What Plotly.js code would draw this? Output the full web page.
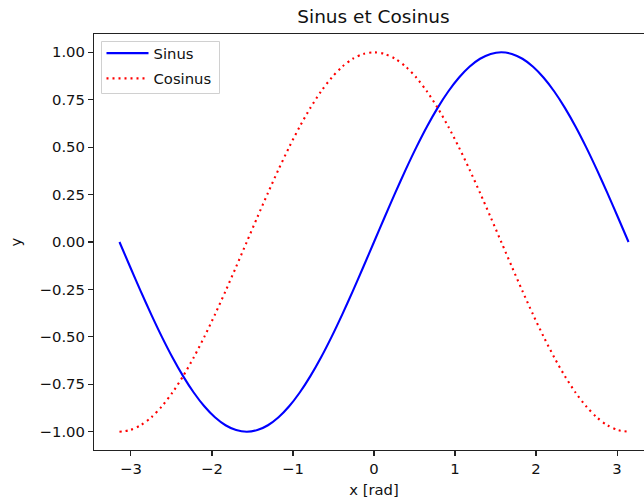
<!DOCTYPE html>
<html>
<head>
<meta charset="utf-8">
<script src="https://cdn.plot.ly/plotly-3.0.1.min.js"></script>
<style>
html, body { margin: 0; padding: 0; overflow: hidden; background: #fff; }
#chart { width: 664px; height: 501px; }
</style>
</head>
<body>
<div id="chart"></div>
<script>
const xRad = [-3.1416,-3.0107,-2.8798,-2.7489,-2.6180,-2.4871,-2.3562,-2.2253,-2.0944,-1.9635,-1.8326,-1.7017,-1.5708,-1.4399,-1.3090,-1.1781,-1.0472,-0.9163,-0.7854,-0.6545,-0.5236,-0.3927,-0.2618,-0.1309,0,0.1309,0.2618,0.3927,0.5236,0.6545,0.7854,0.9163,1.0472,1.1781,1.3090,1.4399,1.5708,1.7017,1.8326,1.9635,2.0944,2.2253,2.3562,2.4871,2.6180,2.7489,2.8798,3.0107,3.1416];
const sinus = [0,-0.1305,-0.2588,-0.3827,-0.5,-0.6088,-0.7071,-0.7934,-0.8660,-0.9239,-0.9659,-0.9914,-1,-0.9914,-0.9659,-0.9239,-0.8660,-0.7934,-0.7071,-0.6088,-0.5,-0.3827,-0.2588,-0.1305,0,0.1305,0.2588,0.3827,0.5,0.6088,0.7071,0.7934,0.8660,0.9239,0.9659,0.9914,1,0.9914,0.9659,0.9239,0.8660,0.7934,0.7071,0.6088,0.5,0.3827,0.2588,0.1305,0];
const cosinus = [-1,-0.9914,-0.9659,-0.9239,-0.8660,-0.7934,-0.7071,-0.6088,-0.5,-0.3827,-0.2588,-0.1305,0,0.1305,0.2588,0.3827,0.5,0.6088,0.7071,0.7934,0.8660,0.9239,0.9659,0.9914,1,0.9914,0.9659,0.9239,0.8660,0.7934,0.7071,0.6088,0.5,0.3827,0.2588,0.1305,0,-0.1305,-0.2588,-0.3827,-0.5,-0.6088,-0.7071,-0.7934,-0.8660,-0.9239,-0.9659,-0.9914,-1];
const xTicks = [-3,-2,-1,0,1,2,3];
const yTicks = [-1,-0.75,-0.5,-0.25,0,0.25,0.5,0.75,1];
const seriesNames = ["Sinus","Cosinus"];

const font = {family: "DejaVu Sans, sans-serif", size: 14.8, color: "#111"};
const traces = [
  {x: xRad, y: sinus, name: seriesNames[0], legendgroup: "g1", type: "scatter", mode: "lines",
   line: {color: "blue", width: 2.1, shape: "spline", smoothing: 0.8}},
  {x: xRad, y: cosinus, name: seriesNames[1], legendgroup: "g2", type: "scatter", mode: "lines",
   line: {color: "red", width: 2.1, dash: "2px,4px", shape: "spline", smoothing: 0.8}}
];
const axisCommon = {
  showgrid: false, zeroline: false, showline: true, mirror: true,
  linecolor: "#222", linewidth: 1.1, ticks: "outside", ticklen: 5, tickwidth: 1.1,
  tickcolor: "#222", tickfont: font
};
const plotW = 560, plotH = 416, padL = 94, padT = 34;
const layout = {
  width: 664, height: 501,
  margin: {l: padL, r: 10, t: padT, b: 51},
  paper_bgcolor: "#fff", plot_bgcolor: "#fff",
  font: font,
  title: {text: "Sinus et Cosinus", font: {family: "DejaVu Sans, sans-serif", size: 18.5, color: "#111"},
          x: 0.5625, xanchor: "center", y: 0.968, yanchor: "middle"},
  xaxis: Object.assign({}, axisCommon, {
    range: [-3.456, 3.456], tickvals: xTicks,
    title: {text: "x [rad]", font: font, standoff: 8}
  }),
  yaxis: Object.assign({}, axisCommon, {
    range: [-1.0965, 1.0965], tickvals: yTicks, tickformat: ".2f",
    title: {text: "y", font: font, standoff: 14}
  }),
  shapes: [{
    type: "rect", xref: "paper", yref: "paper", layer: "above",
    x0: (101.5 - padL) / plotW, x1: (219.5 - padL) / plotW,
    y0: 1 - (93.5 - padT) / plotH, y1: 1 - (41.5 - padT) / plotH,
    fillcolor: "rgba(255,255,255,0.8)", line: {color: "#d0d0d0", width: 1}
  }],
  showlegend: true,
  legend: {x: (101.5 - padL) / plotW, y: 1 - (37 - padT) / plotH, xanchor: "left", yanchor: "top",
           bgcolor: "rgba(0,0,0,0)", borderwidth: 0,
           font: font, itemwidth: 42, tracegroupgap: 3}
};
Plotly.newPlot("chart", traces, layout, {staticPlot: true, displayModeBar: false});
</script>
</body>
</html>
